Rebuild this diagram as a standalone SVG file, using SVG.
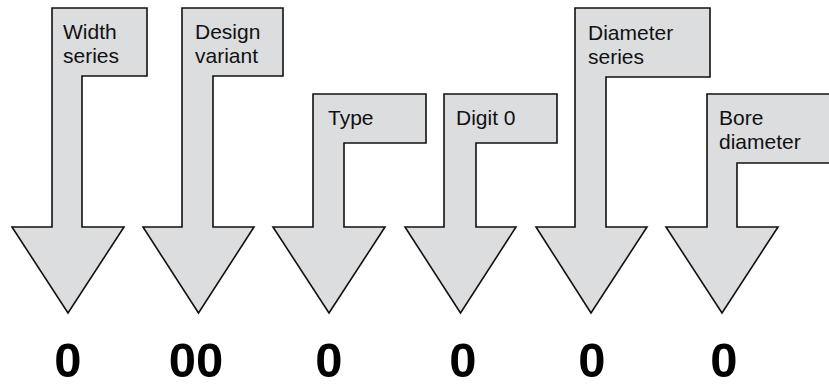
<svg xmlns="http://www.w3.org/2000/svg" width="829" height="387" viewBox="0 0 829 387">
<style>
.arrow{fill:#dcdddf;stroke:#111;stroke-width:1.6;stroke-linejoin:miter}
.lbl{font-family:"Liberation Sans",Arial,sans-serif;font-size:21px;fill:#111}
.num{font-family:"Liberation Sans",Arial,sans-serif;font-size:49px;font-weight:bold;fill:#000;text-anchor:middle}
</style>
<rect width="829" height="387" fill="#fff"/>
<g id="connectors"></g>
<g id="width-series">
<path class="arrow" d="M52,8 H147 V76 H82 V227 H124 L68,313 L12,227 H52 Z"/>
<text class="lbl" x="63" y="39">Width</text>
<text class="lbl" x="63" y="63">series</text>
<text class="num" x="68" y="377">0</text>
</g>
<g id="design-variant">
<path class="arrow" d="M182,8 H283 V76 H213 V227 H254 L198.5,313 L143,227 H182 Z"/>
<text class="lbl" x="195" y="39">Design</text>
<text class="lbl" x="195" y="63">variant</text>
<text class="num" x="196" y="377">00</text>
</g>
<g id="type">
<path class="arrow" d="M313,94 H426 V143 H344 V227 H385 L329,313 L273,227 H313 Z"/>
<text class="lbl" x="328" y="125">Type</text>
<text class="num" x="329" y="377">0</text>
</g>
<g id="digit-0">
<path class="arrow" d="M444,94 H557 V143 H476 V227 H516 L460.5,313 L405,227 H444 Z"/>
<text class="lbl" x="456" y="125">Digit 0</text>
<text class="num" x="463" y="377">0</text>
</g>
<g id="diameter-series">
<path class="arrow" d="M575,8 H710 V77 H606 V227 H647 L591,313 L536,227 H575 Z"/>
<text class="lbl" x="588" y="40">Diameter</text>
<text class="lbl" x="588" y="64">series</text>
<text class="num" x="592" y="377">0</text>
</g>
<g id="bore-diameter">
<path class="arrow" d="M707,94 H831 V163 H737 V227 H778 L722,313 L666,227 H707 Z"/>
<text class="lbl" x="719" y="125">Bore</text>
<text class="lbl" x="719" y="149">diameter</text>
<text class="num" x="724" y="377">0</text>
</g>
</svg>
